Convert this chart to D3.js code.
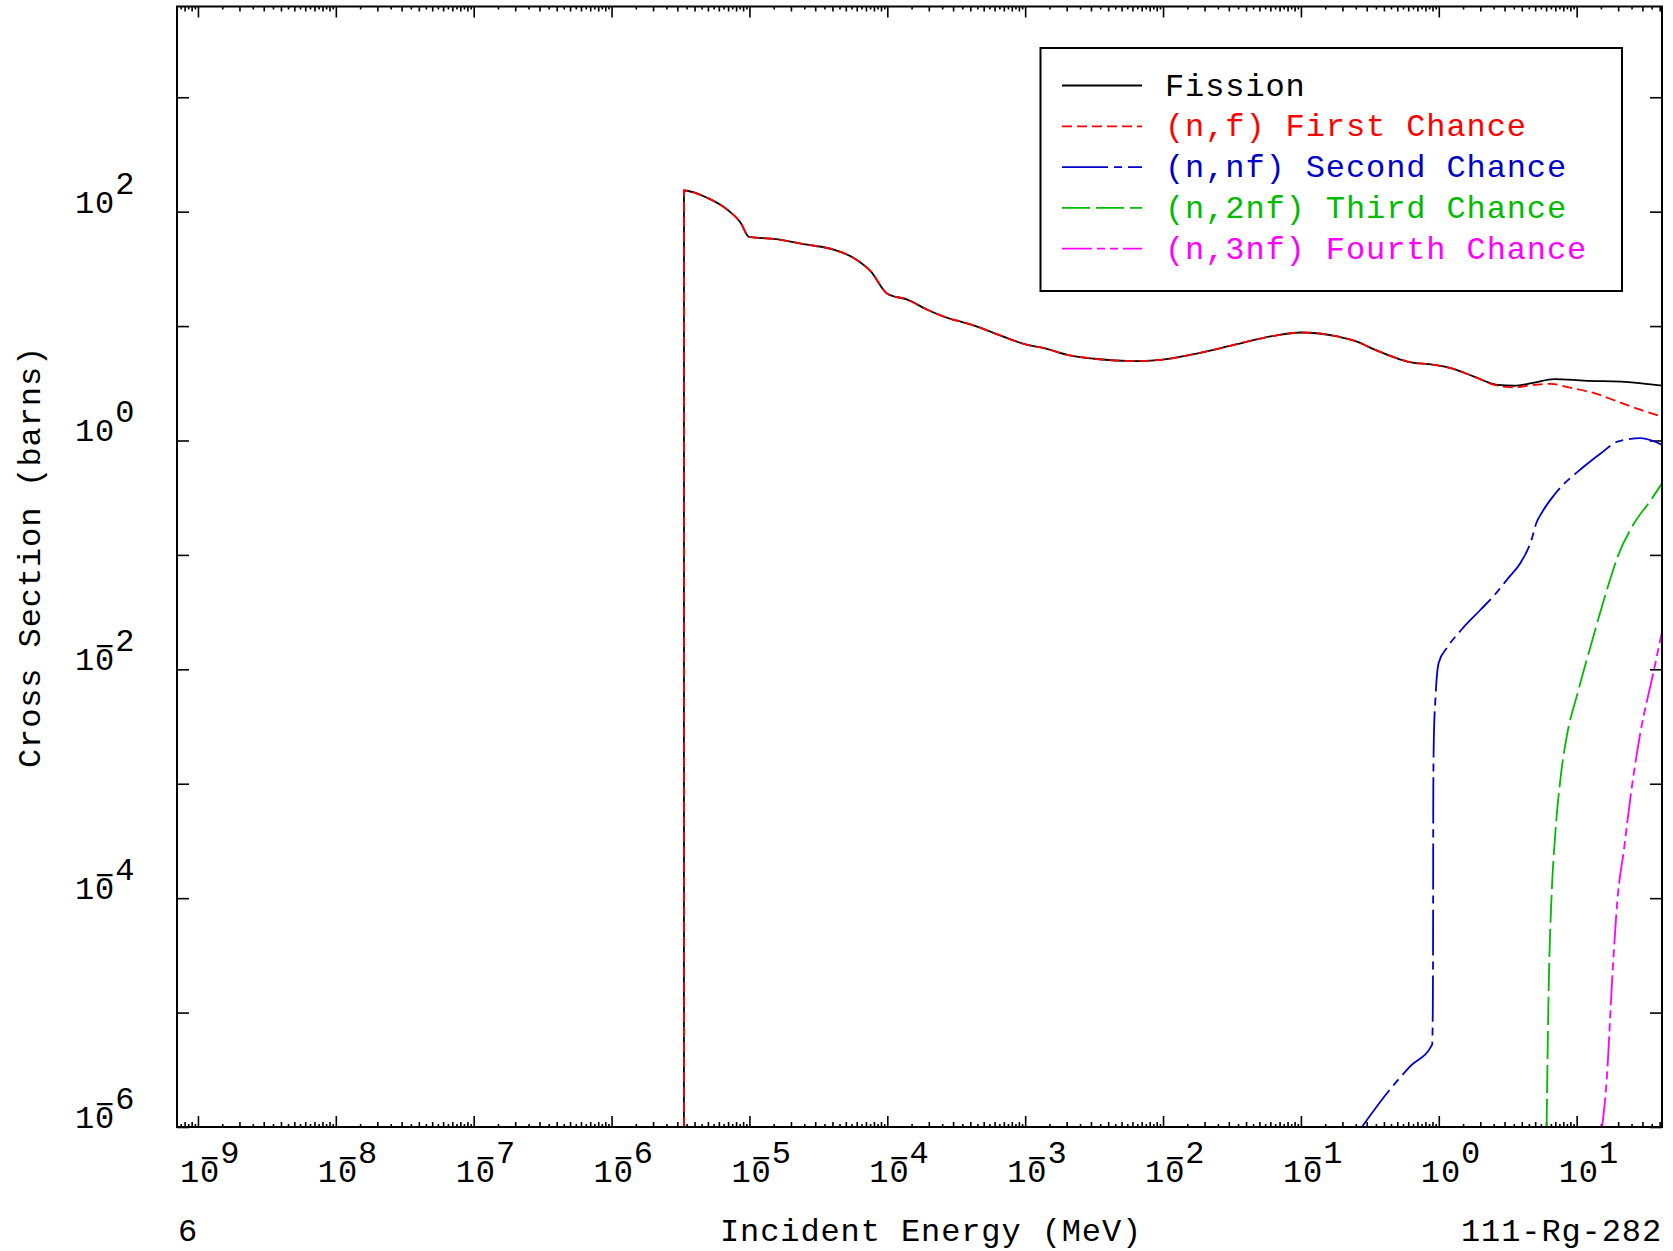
<!DOCTYPE html>
<html>
<head>
<meta charset="utf-8">
<script src="https://cdn.jsdelivr.net/npm/d3@7"></script>
<style>
  html, body { margin: 0; padding: 0; background: #fff; }
  svg { display: block; }
  text { font-family: "Liberation Mono", "DejaVu Sans Mono", monospace; font-size: 32px; letter-spacing: 0.9px; }
</style>
</head>
<body>
<script>
// ---------------- data (energies in MeV, cross sections in barns) ----------------
const fissionE  = [3.349e-6, 3.35e-6, 4.95e-6, 6.92e-6, 8.65e-6, 9.93e-6, 1.5e-5, 2.63e-5, 4.08e-5, 5.7e-5, 7.59e-5, 1.0e-4, 1.4e-4, 1.95e-4, 3.03e-4, 3.4e-4, 4.76e-4, 5.94e-4, 1.04e-3, 1.37e-3, 2.02e-3, 3.16e-3, 6.17e-3, 9.62e-3, 1.68e-2, 2.93e-2, 4.09e-2, 6.38e-2, 0.0998, 0.184, 0.272, 0.304, 0.425, 0.593, 0.925, 1.22, 1.80, 2.67, 3.52, 4.92, 6.87, 11.3, 26.1, 41.6];
const fissionXS = [1e-6, 153, 132, 104, 79.6, 60.1, 57.7, 51.4, 46.6, 39.4, 30.1, 19.2, 17.0, 13.9, 11.35, 10.96, 9.66, 8.69, 6.85, 6.41, 5.61, 5.18, 4.94, 5.07, 5.69, 6.64, 7.33, 8.22, 8.79, 8.11, 7.10, 6.64, 5.61, 4.90, 4.58, 4.29, 3.62, 3.06, 3.01, 3.21, 3.44, 3.34, 3.21, 3.01];

const firstE  = [3.349e-6, 3.35e-6, 4.95e-6, 6.92e-6, 8.65e-6, 9.93e-6, 1.5e-5, 2.63e-5, 4.08e-5, 5.7e-5, 7.59e-5, 1.0e-4, 1.4e-4, 1.95e-4, 3.03e-4, 3.4e-4, 4.76e-4, 5.94e-4, 1.04e-3, 1.37e-3, 2.02e-3, 3.16e-3, 6.17e-3, 9.62e-3, 1.68e-2, 2.93e-2, 4.09e-2, 6.38e-2, 0.0998, 0.184, 0.272, 0.304, 0.425, 0.593, 0.925, 1.22, 1.80, 2.67, 3.52, 4.92, 6.5, 8.59, 13.4, 19.8, 29.2, 41.6];
const firstXS = [1e-6, 153, 132, 104, 79.6, 60.1, 57.7, 51.4, 46.6, 39.4, 30.1, 19.2, 17.0, 13.9, 11.35, 10.96, 9.66, 8.69, 6.85, 6.41, 5.61, 5.18, 4.94, 5.07, 5.69, 6.64, 7.33, 8.22, 8.79, 8.11, 7.10, 6.64, 5.61, 4.90, 4.58, 4.29, 3.62, 3.01, 2.92, 3.06, 3.13, 2.92, 2.59, 2.19, 1.85, 1.62];

const secondE  = [0.277, 0.422, 0.622, 0.895, 0.905, 0.910, 0.912, 0.920, 0.946, 1.0, 1.15, 1.47, 2.0, 2.51, 3.2, 3.91, 4.7, 5.1, 5.6, 6.87, 11.3, 15.0, 19.8, 29.2, 41.6];
const secondXS = [1e-6, 1.98e-6, 3.40e-6, 5.24e-6, 1.07e-5, 9.3e-5, 8.1e-4, 2.37e-3, 5.6e-3, 1.15e-2, 1.55e-2, 2.24e-2, 3.3e-2, 4.4e-2, 6.3e-2, 0.085, 0.135, 0.19, 0.235, 0.334, 0.592, 0.774, 0.977, 1.047, 0.916];

const thirdE  = [6.05, 6.30, 6.55, 7.03, 7.66, 8.55, 10.1, 11.9, 14.1, 16.7, 19.8, 26.1, 34.5, 41.6];
const thirdXS = [1e-6, 2.21e-5, 9.3e-5, 3.93e-4, 1.15e-3, 2.74e-3, 6.04e-3, 1.24e-2, 2.55e-2, 5.1e-2, 9.6e-2, 0.189, 0.301, 0.423];

const fourthE  = [15.3, 16.5, 18.2, 19.7, 22.1, 24.7, 29.2, 35.5, 41.6];
const fourthXS = [1e-6, 2.55e-6, 2.21e-5, 9.3e-5, 2.74e-4, 8.05e-4, 2.94e-3, 8.66e-3, 2.13e-2];

const seriesNames  = ["Fission", "(n,f) First Chance", "(n,nf) Second Chance", "(n,2nf) Third Chance", "(n,3nf) Fourth Chance"];
const seriesColors = ["#000000", "#ff0000", "#0000cc", "#00bb00", "#ff00ff"];
const seriesDashes = ["none", "10,5", "46,6,8,6", "28,6", "30,5,8,5,8,5"];

const xLabelExps = [-9, -8, -7, -6, -5, -4, -3, -2, -1, 0, 1];
const yLabelExps = [2, 0, -2, -4, -6];
const yTickExps  = [-6, -5, -4, -3, -2, -1, 0, 1, 2, 3];

const xTitle = "Incident Energy (MeV)";
const yTitle = "Cross Section (barns)";
const cornerLeft = "6";
const cornerRight = "111-Rg-282";

// ---------------- layout ----------------
const W = 1673, H = 1251;
const L = 177, R = 1662, T = 6.5, B = 1127;
const CH = 20.1; // character advance

const svg = d3.select("body").append("svg").attr("width", W).attr("height", H);

const x = d3.scaleLog().domain([Math.pow(10, -9.152), Math.pow(10, 1.619)]).range([L, R]);
const y = d3.scaleLog().domain([1e-6, Math.pow(10, 3.793)]).range([B, T]);

// tick value sets
const [xd0, xd1] = x.domain();
const xMajor = [], xMinorInt = [], xMinorHalf = [];
for (let d = -10; d <= 2; d++) {
  for (let m = 1; m < 10; m += 0.5) {
    const v = m * Math.pow(10, d);
    if (v < xd0 || v > xd1) continue;
    if (m === 1) xMajor.push(v);
    else if (Number.isInteger(m)) xMinorInt.push(v);
    else xMinorHalf.push(v);
  }
}
const yMajor = yTickExps.map(e => Math.pow(10, e));

function tickAxis(axisFn, scale, values, size, tx, ty) {
  const g = svg.append("g").attr("transform", `translate(${tx},${ty})`)
    .call(axisFn(scale).tickValues(values).tickSize(size).tickFormat(""));
  g.select(".domain").remove();
  g.selectAll("text").remove();
  g.selectAll("line").attr("stroke", "#000").attr("stroke-width", 1.6);
}
tickAxis(d3.axisTop, x, xMajor, 11, 0, B);
tickAxis(d3.axisTop, x, xMinorInt, 5, 0, B);
tickAxis(d3.axisTop, x, xMinorHalf, 3, 0, B);
tickAxis(d3.axisBottom, x, xMajor, 11, 0, T);
tickAxis(d3.axisBottom, x, xMinorInt, 5, 0, T);
tickAxis(d3.axisBottom, x, xMinorHalf, 3, 0, T);
tickAxis(d3.axisRight, y, yMajor, 12, L, 0);
tickAxis(d3.axisLeft, y, yMajor, 12, R, 0);

// clip
svg.append("clipPath").attr("id", "clip").append("rect")
  .attr("x", L).attr("y", T).attr("width", R - L).attr("height", B - T);

const line = d3.line().x(d => x(d[0])).y(d => y(d[1])).curve(d3.curveMonotoneX);
const seriesData = [
  d3.zip(fissionE, fissionXS),
  d3.zip(firstE, firstXS),
  d3.zip(secondE, secondXS),
  d3.zip(thirdE, thirdXS),
  d3.zip(fourthE, fourthXS)
];
const plot = svg.append("g").attr("clip-path", "url(#clip)");
seriesData.forEach((d, i) => {
  plot.append("path").attr("d", line(d))
    .attr("fill", "none")
    .attr("stroke", seriesColors[i])
    .attr("stroke-width", 1.8)
    .attr("stroke-dasharray", seriesDashes[i]);
});

// frame
svg.append("rect").attr("x", L).attr("y", T).attr("width", R - L).attr("height", B - T)
  .attr("fill", "none").attr("stroke", "#000").attr("stroke-width", 2);

// power-of-ten label (minus bar sits over the "0", as in the reference)
function powLabel(xs, ys, e) {
  const t = svg.append("text").attr("x", xs).attr("y", ys).attr("fill", "#000");
  t.append("tspan").text("10");
  if (e < 0) {
    t.append("tspan").attr("dx", -CH).attr("dy", -13).text("\u2212");
    t.append("tspan").attr("dy", -6).text(String(-e));
  } else {
    t.append("tspan").attr("dy", -19).text(String(e));
  }
}
xLabelExps.forEach(e => powLabel(x(Math.pow(10, e)) - 18, 1182, e));
yLabelExps.forEach(e => powLabel(75, y(Math.pow(10, e)) + 1, e));

// titles
svg.append("text").attr("x", 720).attr("y", 1241).text(xTitle);
svg.append("text").attr("transform", "translate(40,557) rotate(-90)")
  .attr("text-anchor", "middle").text(yTitle);
svg.append("text").attr("x", 178).attr("y", 1241).text(cornerLeft);
svg.append("text").attr("x", 1662).attr("y", 1241).attr("text-anchor", "end").text(cornerRight);

// legend
const lg = svg.append("g");
lg.append("rect").attr("x", 1040.5).attr("y", 48).attr("width", 581.5).attr("height", 243)
  .attr("fill", "#fff").attr("stroke", "#000").attr("stroke-width", 2);
seriesNames.forEach((name, i) => {
  const yy = 85.5 + i * 40.8;
  lg.append("line").attr("x1", 1062).attr("x2", 1142).attr("y1", yy).attr("y2", yy)
    .attr("stroke", seriesColors[i]).attr("stroke-width", 1.8)
    .attr("stroke-dasharray", seriesDashes[i]);
  lg.append("text").attr("x", 1165).attr("y", yy + 10).attr("fill", seriesColors[i]).text(name);
});
</script>
</body>
</html>
